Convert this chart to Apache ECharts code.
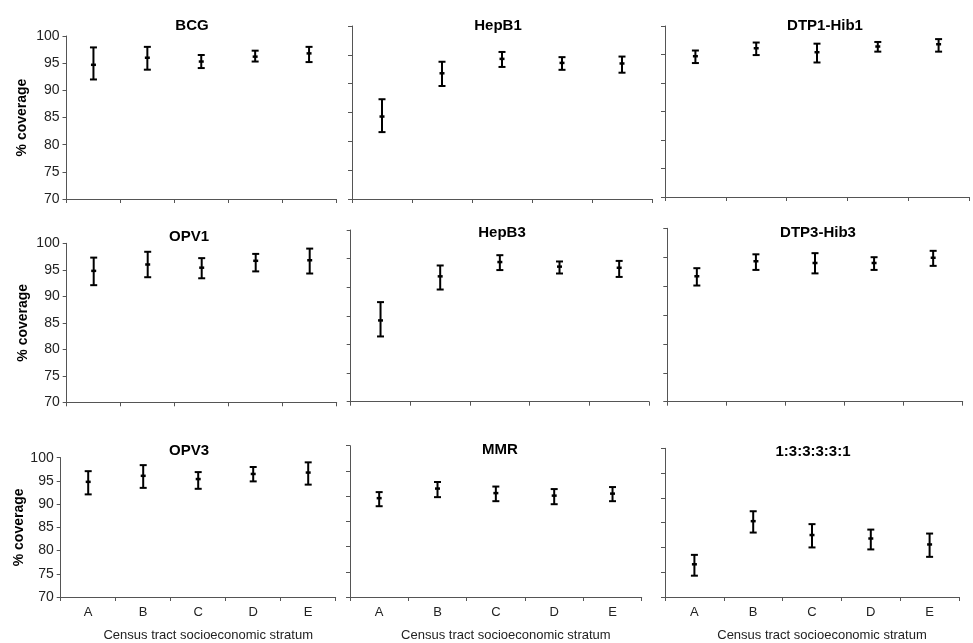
<!DOCTYPE html>
<html lang="en">
<head>
    <meta charset="UTF-8">
    <title>% coverage by census tract socioeconomic stratum</title>
    <script src="https://cdn.jsdelivr.net/npm/echarts@6/dist/echarts.min.js"></script>
    <style>
        html, body { margin: 0; padding: 0; background: #fff; }
    </style>
</head>
<body>
<div id="main" style="width: 973px;height: 643px"></div>
<script type="text/javascript">
    // categories
    var strata = ['A', 'B', 'C', 'D', 'E'];

    // point estimate, lower and upper limit for each vaccine
    var bcgMid = [94.7, 96.0, 95.3, 96.2, 96.8];
    var bcgLow = [92.0, 93.8, 94.1, 95.3, 95.2];
    var bcgHigh = [97.9, 98.0, 96.5, 97.3, 98.0];

    var hepb1Mid = [84.3, 91.8, 94.3, 93.6, 93.5];
    var hepb1Low = [81.6, 89.6, 92.9, 92.4, 91.9];
    var hepb1High = [87.3, 93.8, 95.5, 94.6, 94.7];

    var dtp1Mid = [94.7, 96.1, 95.4, 96.4, 96.8];
    var dtp1Low = [93.5, 94.9, 93.6, 95.5, 95.5];
    var dtp1High = [95.7, 97.1, 96.9, 97.2, 97.7];

    var opv1Mid = [94.8, 96.0, 95.4, 96.7, 96.8];
    var opv1Low = [92.1, 93.6, 93.4, 94.7, 94.3];
    var opv1High = [97.3, 98.4, 97.2, 98.0, 99.0];

    var hepb3Mid = [84.2, 91.9, 94.4, 93.6, 93.4];
    var hepb3Low = [81.4, 89.6, 93.0, 92.4, 91.8];
    var hepb3High = [87.4, 93.8, 95.6, 94.5, 94.6];

    var dtp3Mid = [91.7, 94.3, 94.0, 94.0, 94.9];
    var dtp3Low = [90.1, 92.8, 92.2, 92.8, 93.5];
    var dtp3High = [93.1, 95.5, 95.7, 95.0, 96.1];

    var opv3Mid = [94.8, 96.1, 95.4, 96.5, 96.8];
    var opv3Low = [92.1, 93.5, 93.3, 94.9, 94.2];
    var opv3High = [97.1, 98.4, 96.9, 98.0, 99.0];

    var mmrMid = [89.6, 91.5, 90.6, 90.1, 90.5];
    var mmrLow = [88.0, 89.8, 89.0, 88.4, 89.0];
    var mmrHigh = [90.8, 92.8, 91.9, 91.4, 91.8];

    var fullMid = [76.6, 85.3, 82.5, 81.8, 80.6];
    var fullLow = [74.3, 83.0, 80.0, 79.6, 78.1];
    var fullHigh = [78.5, 87.3, 84.7, 83.6, 82.8];

    // y axis
    var yMin = 70, yMax = 100, yStep = 5;

    var font = 'Liberation Sans, Arial, sans-serif';

    // panel layout: grid box [left, top, width, height], title anchor [x, y]
    var panels = [
        {title: 'BCG', mid: bcgMid, low: bcgLow, high: bcgHigh, box: [66.5, 36, 269.5, 163], t: [187, 13], left: true, bottom: false},
        {title: 'HepB1', mid: hepb1Mid, low: hepb1Low, high: hepb1High, box: [352, 26, 300, 173], t: [493, 13], left: false, bottom: false},
        {title: 'DTP1-Hib1', mid: dtp1Mid, low: dtp1Low, high: dtp1High, box: [665, 26, 304, 171], t: [820, 13], left: false, bottom: false},
        {title: 'OPV1', mid: opv1Mid, low: opv1Low, high: opv1High, box: [66.7, 243.3, 270, 159], t: [184, 224], left: true, bottom: false},
        {title: 'HepB3', mid: hepb3Mid, low: hepb3Low, high: hepb3High, box: [350.7, 230, 298.3, 171.7], t: [497, 220], left: false, bottom: false},
        {title: 'DTP3-Hib3', mid: dtp3Mid, low: dtp3Low, high: dtp3High, box: [667.3, 228.3, 295.4, 173.4], t: [813, 220], left: false, bottom: false},
        {title: 'OPV3', mid: opv3Mid, low: opv3Low, high: opv3High, box: [60.7, 457.7, 275, 142.3], t: [184, 438], left: true, bottom: true},
        {title: 'MMR', mid: mmrMid, low: mmrLow, high: mmrHigh, box: [350, 445.7, 291.7, 153.3], t: [495, 437], left: false, bottom: true},
        {title: '1:3:3:3:3:1', mid: fullMid, low: fullLow, high: fullHigh, box: [665, 448.3, 294, 149.4], t: [808, 439], left: false, bottom: true}
    ];

    function renderErrorBar(params, api) {
        var i = api.value(0);
        var lo = api.coord([i, api.value(1)]);
        var md = api.coord([i, api.value(2)]);
        var hi = api.coord([i, api.value(3)]);
        var cap = 3.5;
        var st = {stroke: '#000', lineWidth: 2};
        return {
            type: 'group',
            children: [
                {type: 'line', shape: {x1: hi[0], y1: hi[1], x2: lo[0], y2: lo[1]}, style: st},
                {type: 'line', shape: {x1: hi[0] - cap, y1: hi[1], x2: hi[0] + cap, y2: hi[1]}, style: st},
                {type: 'line', shape: {x1: lo[0] - cap, y1: lo[1], x2: lo[0] + cap, y2: lo[1]}, style: st},
                {type: 'line', shape: {x1: md[0] - 2.5, y1: md[1], x2: md[0] + 2.5, y2: md[1]}, style: {stroke: '#000', lineWidth: 2.5}}
            ]
        };
    }

    var axisLine = {show: true, lineStyle: {color: '#555', width: 1}};
    var titles = [], grids = [], xAxes = [], yAxes = [], series = [];

    panels.forEach(function (p, k) {
        titles.push({
            text: p.title, left: p.t[0], top: p.t[1], textAlign: 'center',
            textStyle: {fontFamily: font, fontWeight: 'bold', fontSize: 15, color: '#000'}
        });
        grids.push({left: p.box[0], top: p.box[1], width: p.box[2], height: p.box[3]});
        xAxes.push({
            type: 'category', gridIndex: k, data: strata, boundaryGap: true,
            axisLine: axisLine,
            axisTick: {show: true, length: 4, lineStyle: {color: '#555'}},
            axisLabel: {show: p.bottom, fontFamily: font, fontSize: 13, color: '#222', margin: 9},
            name: p.bottom ? 'Census tract socioeconomic stratum' : '',
            nameLocation: 'middle', nameGap: 32,
            nameTextStyle: {fontFamily: font, fontSize: 13, color: '#222', padding: [0, 0, 0, 20]}
        });
        yAxes.push({
            type: 'value', gridIndex: k, min: yMin, max: yMax, interval: yStep,
            splitLine: {show: false},
            axisLine: axisLine,
            axisTick: {show: true, length: 4, lineStyle: {color: '#555'}},
            axisLabel: {show: p.left, fontFamily: font, fontSize: 14, color: '#222', margin: 7},
            name: p.left ? '% coverage' : '',
            nameLocation: 'middle', nameRotate: 90, nameGap: p.bottom ? 32 : 37,
            nameTextStyle: {fontFamily: font, fontSize: 14, fontWeight: 'bold', color: '#000'}
        });
        var data = strata.map(function (s, i) {
            return [i, p.low[i], p.mid[i], p.high[i]];
        });
        series.push({
            name: p.title, type: 'custom', xAxisIndex: k, yAxisIndex: k,
            renderItem: renderErrorBar, encode: {x: 0, y: [1, 2, 3]},
            data: data, silent: true, animation: false
        });
    });

    var myChart = echarts.init(document.getElementById('main'));
    myChart.setOption({
        backgroundColor: '#fff',
        animation: false,
        title: titles,
        grid: grids,
        xAxis: xAxes,
        yAxis: yAxes,
        series: series
    });
</script>
</body>
</html>
